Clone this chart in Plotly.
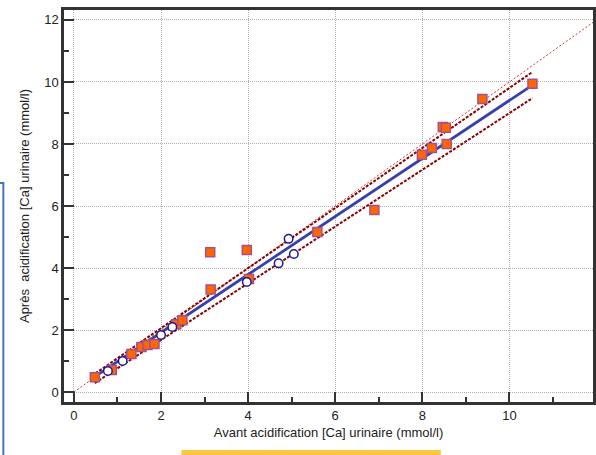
import plotly.graph_objects as go

# --- data ---
sq_x = [0.48, 0.87, 1.32, 1.55, 1.69, 1.85, 2.35, 2.49, 3.14, 3.13, 3.97, 4.02, 5.59, 6.90, 7.99, 8.22, 8.47, 8.54, 8.56, 9.38, 10.53]
sq_y = [0.48, 0.71, 1.23, 1.45, 1.52, 1.55, 2.19, 2.32, 3.31, 4.51, 4.58, 3.65, 5.16, 5.87, 7.65, 7.87, 8.55, 8.52, 8.00, 9.45, 9.94]
ci_x = [0.78, 1.12, 2.00, 2.26, 3.97, 4.70, 4.93, 5.05]
ci_y = [0.68, 1.00, 1.84, 2.10, 3.55, 4.15, 4.94, 4.45]

reg_x = [0.43, 10.53]
reg_y = [0.45, 9.90]
upper_x = [0.41, 10.53]
upper_y = [0.52, 10.32]
lower_x = [0.48, 10.53]
lower_y = [0.29, 9.48]
ident = [0, 12.5]

x_ticks = [0, 2, 4, 6, 8, 10, 12]
y_ticks = [0, 2, 4, 6, 8, 10, 12]

FONT = "Liberation Sans, Arial, sans-serif"

fig = go.Figure()
fig.add_trace(go.Scatter(x=ident, y=ident, mode="lines",
                         line=dict(color="#C0392B", width=1, dash="2px,2px"),
                         hoverinfo="skip", showlegend=False))
fig.add_trace(go.Scatter(x=upper_x, y=upper_y, mode="lines",
                         line=dict(color="#8B0000", width=2, dash="3px,1.5px"), showlegend=False))
fig.add_trace(go.Scatter(x=lower_x, y=lower_y, mode="lines",
                         line=dict(color="#8B0000", width=2, dash="3px,1.5px"), showlegend=False))
fig.add_trace(go.Scatter(x=reg_x, y=reg_y, mode="lines",
                         line=dict(color="#3840A8", width=2.8), showlegend=False))
fig.add_trace(go.Scatter(x=sq_x, y=sq_y, mode="markers",
                         marker=dict(symbol="square", size=9, color="#FF6600",
                                     line=dict(color="#A8508C", width=1.5)),
                         showlegend=False))
fig.add_trace(go.Scatter(x=ci_x, y=ci_y, mode="markers",
                         marker=dict(symbol="circle", size=8.5, color="white",
                                     line=dict(color="#1A1A99", width=1.5)),
                         showlegend=False))

L, T, B = 64, 10, 53
W, H = 596, 455
pw, ph = W - L, H - T - B

def px2paper_x(px):
    return (px - L) / pw

def py2paper_y(py):
    return (H - B - py) / ph

axis_common = dict(
    showline=True, linecolor="#333333", linewidth=2.5, mirror=True,
    ticks="inside", ticklen=10, tickwidth=2, tickcolor="#333333",
    showgrid=True, gridcolor="#B0B0B0", griddash="1px,1px", gridwidth=1,
    zeroline=False,
    tickfont=dict(family=FONT, size=13, color="#222222"),
    minor=dict(ticks="inside", ticklen=5, tickwidth=1.5, tickcolor="#333333", dtick=1, showgrid=False),
)

fig.update_layout(
    width=W, height=H,
    margin=dict(l=L, r=0, t=T, b=B),
    plot_bgcolor="white", paper_bgcolor="white",
    xaxis=dict(range=[-0.228, 11.92], tickvals=x_ticks,
               title=dict(text="Avant acidification [Ca] urinaire (mmol/l)",
                          font=dict(family=FONT, size=13, color="#222222"), standoff=6),
               **axis_common),
    yaxis=dict(range=[-0.32, 12.32], tickvals=y_ticks,
               title=dict(text="Après  acidification [Ca] urinaire (mmol/l)",
                          font=dict(family=FONT, size=13, color="#222222"), standoff=12),
               **axis_common),
    shapes=[
        dict(type="rect", xref="paper", yref="paper",
             x0=px2paper_x(-10), x1=px2paper_x(3), y0=py2paper_y(470), y1=py2paper_y(183),
             line=dict(color="#4472C4", width=2), fillcolor="rgba(0,0,0,0)"),
        dict(type="rect", xref="paper", yref="paper",
             x0=px2paper_x(182), x1=px2paper_x(443), y0=py2paper_y(460), y1=py2paper_y(450),
             line=dict(width=0), fillcolor="#FDC741"),
    ],
)

fig.write_html("out.html")
